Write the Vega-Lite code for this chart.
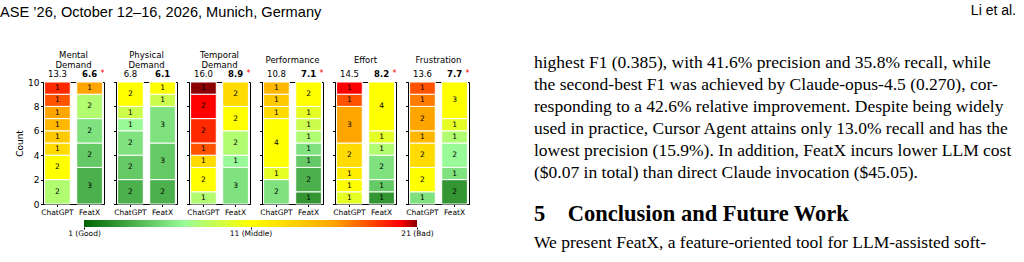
{
  "$schema": "https://vega.github.io/schema/vega-lite/v6.json",
  "padding": {"left": 0, "top": 4, "right": 0, "bottom": 0},
  "background": "white",
  "config": {
    "font": "DejaVu Sans",
    "view": {"stroke": "black", "strokeWidth": 1},
    "axis": {"domainColor": "black", "tickColor": "black", "labelColor": "black", "titleColor": "black", "grid": false, "domainWidth": 1},
    "title": {"font": "DejaVu Sans", "fontSize": 8.5, "fontWeight": "normal", "color": "black", "baseline": "middle", "lineHeight": 10, "offset": 0.5},
    "text": {"font": "DejaVu Sans", "color": "black"}
  },
  "datasets": {
    "segs": [
      {"task": "Mental Demand", "tool": "ChatGPT", "score": 8, "count": 2},
      {"task": "Mental Demand", "tool": "ChatGPT", "score": 11, "count": 2},
      {"task": "Mental Demand", "tool": "ChatGPT", "score": 13, "count": 1},
      {"task": "Mental Demand", "tool": "ChatGPT", "score": 14, "count": 1},
      {"task": "Mental Demand", "tool": "ChatGPT", "score": 15, "count": 1},
      {"task": "Mental Demand", "tool": "ChatGPT", "score": 16, "count": 1},
      {"task": "Mental Demand", "tool": "ChatGPT", "score": 18, "count": 1},
      {"task": "Mental Demand", "tool": "ChatGPT", "score": 19, "count": 1},
      {"task": "Mental Demand", "tool": "FeatX", "score": 4, "count": 3},
      {"task": "Mental Demand", "tool": "FeatX", "score": 5, "count": 2},
      {"task": "Mental Demand", "tool": "FeatX", "score": 6, "count": 2},
      {"task": "Mental Demand", "tool": "FeatX", "score": 8, "count": 2},
      {"task": "Mental Demand", "tool": "FeatX", "score": 16, "count": 1},
      {"task": "Physical Demand", "tool": "ChatGPT", "score": 4, "count": 2},
      {"task": "Physical Demand", "tool": "ChatGPT", "score": 5, "count": 2},
      {"task": "Physical Demand", "tool": "ChatGPT", "score": 6, "count": 2},
      {"task": "Physical Demand", "tool": "ChatGPT", "score": 7, "count": 1},
      {"task": "Physical Demand", "tool": "ChatGPT", "score": 9, "count": 1},
      {"task": "Physical Demand", "tool": "ChatGPT", "score": 11, "count": 2},
      {"task": "Physical Demand", "tool": "FeatX", "score": 4, "count": 2},
      {"task": "Physical Demand", "tool": "FeatX", "score": 5, "count": 3},
      {"task": "Physical Demand", "tool": "FeatX", "score": 6, "count": 3},
      {"task": "Physical Demand", "tool": "FeatX", "score": 9, "count": 1},
      {"task": "Physical Demand", "tool": "FeatX", "score": 11, "count": 1},
      {"task": "Temporal Demand", "tool": "ChatGPT", "score": 8, "count": 1},
      {"task": "Temporal Demand", "tool": "ChatGPT", "score": 11, "count": 2},
      {"task": "Temporal Demand", "tool": "ChatGPT", "score": 13, "count": 1},
      {"task": "Temporal Demand", "tool": "ChatGPT", "score": 18, "count": 1},
      {"task": "Temporal Demand", "tool": "ChatGPT", "score": 19, "count": 2},
      {"task": "Temporal Demand", "tool": "ChatGPT", "score": 20, "count": 2},
      {"task": "Temporal Demand", "tool": "ChatGPT", "score": 21, "count": 1},
      {"task": "Temporal Demand", "tool": "FeatX", "score": 6, "count": 3},
      {"task": "Temporal Demand", "tool": "FeatX", "score": 7, "count": 1},
      {"task": "Temporal Demand", "tool": "FeatX", "score": 8, "count": 2},
      {"task": "Temporal Demand", "tool": "FeatX", "score": 11, "count": 2},
      {"task": "Temporal Demand", "tool": "FeatX", "score": 13, "count": 2},
      {"task": "Performance", "tool": "ChatGPT", "score": 6, "count": 2},
      {"task": "Performance", "tool": "ChatGPT", "score": 10, "count": 1},
      {"task": "Performance", "tool": "ChatGPT", "score": 11, "count": 4},
      {"task": "Performance", "tool": "ChatGPT", "score": 13, "count": 1},
      {"task": "Performance", "tool": "ChatGPT", "score": 14, "count": 1},
      {"task": "Performance", "tool": "ChatGPT", "score": 15, "count": 1},
      {"task": "Performance", "tool": "FeatX", "score": 3, "count": 1},
      {"task": "Performance", "tool": "FeatX", "score": 4, "count": 2},
      {"task": "Performance", "tool": "FeatX", "score": 5, "count": 1},
      {"task": "Performance", "tool": "FeatX", "score": 6, "count": 1},
      {"task": "Performance", "tool": "FeatX", "score": 8, "count": 1},
      {"task": "Performance", "tool": "FeatX", "score": 9, "count": 1},
      {"task": "Performance", "tool": "FeatX", "score": 10, "count": 1},
      {"task": "Performance", "tool": "FeatX", "score": 11, "count": 2},
      {"task": "Effort", "tool": "ChatGPT", "score": 10, "count": 1},
      {"task": "Effort", "tool": "ChatGPT", "score": 11, "count": 1},
      {"task": "Effort", "tool": "ChatGPT", "score": 12, "count": 1},
      {"task": "Effort", "tool": "ChatGPT", "score": 13, "count": 2},
      {"task": "Effort", "tool": "ChatGPT", "score": 16, "count": 3},
      {"task": "Effort", "tool": "ChatGPT", "score": 18, "count": 1},
      {"task": "Effort", "tool": "ChatGPT", "score": 20, "count": 1},
      {"task": "Effort", "tool": "FeatX", "score": 3, "count": 1},
      {"task": "Effort", "tool": "FeatX", "score": 5, "count": 1},
      {"task": "Effort", "tool": "FeatX", "score": 6, "count": 2},
      {"task": "Effort", "tool": "FeatX", "score": 8, "count": 1},
      {"task": "Effort", "tool": "FeatX", "score": 10, "count": 1},
      {"task": "Effort", "tool": "FeatX", "score": 11, "count": 4},
      {"task": "Frustration", "tool": "ChatGPT", "score": 6, "count": 1},
      {"task": "Frustration", "tool": "ChatGPT", "score": 11, "count": 2},
      {"task": "Frustration", "tool": "ChatGPT", "score": 13, "count": 2},
      {"task": "Frustration", "tool": "ChatGPT", "score": 15, "count": 1},
      {"task": "Frustration", "tool": "ChatGPT", "score": 16, "count": 2},
      {"task": "Frustration", "tool": "ChatGPT", "score": 17, "count": 1},
      {"task": "Frustration", "tool": "ChatGPT", "score": 18, "count": 1},
      {"task": "Frustration", "tool": "FeatX", "score": 3, "count": 2},
      {"task": "Frustration", "tool": "FeatX", "score": 6, "count": 1},
      {"task": "Frustration", "tool": "FeatX", "score": 7, "count": 2},
      {"task": "Frustration", "tool": "FeatX", "score": 8, "count": 1},
      {"task": "Frustration", "tool": "FeatX", "score": 10, "count": 1},
      {"task": "Frustration", "tool": "FeatX", "score": 11, "count": 3}
    ],
    "means": [
      {"task": "Mental Demand", "tool": "ChatGPT", "mean": 13.3, "sig": ""},
      {"task": "Mental Demand", "tool": "FeatX", "mean": 6.6, "sig": "*"},
      {"task": "Physical Demand", "tool": "ChatGPT", "mean": 6.8, "sig": ""},
      {"task": "Physical Demand", "tool": "FeatX", "mean": 6.1, "sig": ""},
      {"task": "Temporal Demand", "tool": "ChatGPT", "mean": 16.0, "sig": ""},
      {"task": "Temporal Demand", "tool": "FeatX", "mean": 8.9, "sig": "*"},
      {"task": "Performance", "tool": "ChatGPT", "mean": 10.8, "sig": ""},
      {"task": "Performance", "tool": "FeatX", "mean": 7.1, "sig": "*"},
      {"task": "Effort", "tool": "ChatGPT", "mean": 14.5, "sig": ""},
      {"task": "Effort", "tool": "FeatX", "mean": 8.2, "sig": "*"},
      {"task": "Frustration", "tool": "ChatGPT", "mean": 13.6, "sig": ""},
      {"task": "Frustration", "tool": "FeatX", "mean": 7.7, "sig": "*"}
    ],
    "para1": [
      {"block": "p", "line": 1, "text": "highest F1 (0.385), with 41.6% precision and 35.8% recall, while"},
      {"block": "p", "line": 2, "text": "the second-best F1 was achieved by Claude-opus-4.5 (0.270), cor-"},
      {"block": "p", "line": 3, "text": "responding to a 42.6% relative improvement. Despite being widely"},
      {"block": "p", "line": 4, "text": "used in practice, Cursor Agent attains only 13.0% recall and has the"},
      {"block": "p", "line": 5, "text": "lowest precision (15.9%). In addition, FeatX incurs lower LLM cost"},
      {"block": "p", "line": 6, "text": "($0.07 in total) than direct Claude invocation ($45.05)."}
    ],
    "para2": [
      {"block": "p", "line": 1, "kind": "heading", "text": "5\u2003Conclusion and Future Work"},
      {"block": "p", "line": 2, "kind": "body", "text": "We present FeatX, a feature-oriented tool for LLM-assisted soft-"}
    ]
  },
  "hconcat": [
    {
      "title": {"text": "ASE \u201926, October 12\u201316, 2026, Munich, Germany", "anchor": "start", "frame": "bounds", "dx": -15, "offset": 22.5, "font": "Liberation Sans", "fontSize": 14.6, "baseline": "middle", "color": "black"},
      "spacing": 4,
      "vconcat": [
        {
          "hconcat": [
            {
              "width": 61, "height": 122,
              "title": {"text": ["Mental", "Demand"]},
              "encoding": {"x": {"field": "tool", "type": "nominal", "sort": ["ChatGPT", "FeatX"], "scale": {"paddingInner": 0.2, "paddingOuter": 0.05}, "axis": {"title": null, "labelAngle": 0, "labelFontSize": 7.5, "tickSize": 2.5, "labelPadding": 1.5}}},
              "layer": [
                {"data": {"name": "segs"}, "transform": [{"filter": {"field": "task", "equal": "Mental Demand"}}],
                 "mark": {"type": "bar", "stroke": "white", "strokeWidth": 1},
                 "encoding": {
                   "y": {"field": "count", "type": "quantitative", "stack": "zero", "scale": {"domain": [0, 10], "nice": false}, "axis": {"title": "Count", "values": [0, 2, 4, 6, 8, 10], "labelFontSize": 9, "titleFontSize": 9, "titleFontWeight": "normal", "tickSize": 2.5, "labelPadding": 1.5, "titlePadding": 3}},
                   "color": {"field": "score", "type": "quantitative", "scale": {"domain": [1, 7, 11, 16, 20, 21], "range": ["#006400", "#98fb98", "#ffff00", "#ffa500", "#ff0000", "#8b0000"], "interpolate": "rgb"}, "legend": null},
                   "order": {"field": "score", "type": "quantitative"}
                 }},
                {"data": {"name": "segs"}, "transform": [{"filter": {"field": "task", "equal": "Mental Demand"}}, {"stack": "count", "groupby": ["tool"], "sort": [{"field": "score", "order": "ascending"}], "as": ["y0", "y1"]}, {"calculate": "(datum.y0 + datum.y1) / 2", "as": "ymid"}],
                 "mark": {"type": "text", "fontSize": 7.5},
                 "encoding": {"y": {"field": "ymid", "type": "quantitative", "scale": {"domain": [0, 10], "nice": false}, "axis": {"title": "Count", "values": [0, 2, 4, 6, 8, 10], "labelFontSize": 9, "titleFontSize": 9, "titleFontWeight": "normal", "tickSize": 2.5, "labelPadding": 1.5, "titlePadding": 3}}, "text": {"field": "count", "type": "quantitative"}}},
                {"data": {"name": "means"}, "transform": [{"filter": {"field": "task", "equal": "Mental Demand"}}, {"filter": {"field": "tool", "equal": "ChatGPT"}}],
                 "mark": {"type": "text", "baseline": "bottom", "dy": -3, "fontSize": 8.5},
                 "encoding": {"y": {"datum": 10, "type": "quantitative", "scale": {"domain": [0, 10], "nice": false}, "axis": {"title": "Count", "values": [0, 2, 4, 6, 8, 10], "labelFontSize": 9, "titleFontSize": 9, "titleFontWeight": "normal", "tickSize": 2.5, "labelPadding": 1.5, "titlePadding": 3}}, "text": {"field": "mean", "type": "quantitative", "format": ".1f"}}},
                {"data": {"name": "means"}, "transform": [{"filter": {"field": "task", "equal": "Mental Demand"}}, {"filter": {"field": "tool", "equal": "FeatX"}}],
                 "mark": {"type": "text", "baseline": "bottom", "dy": -3, "fontSize": 8.5, "fontWeight": "bold"},
                 "encoding": {"y": {"datum": 10, "type": "quantitative", "scale": {"domain": [0, 10], "nice": false}, "axis": {"title": "Count", "values": [0, 2, 4, 6, 8, 10], "labelFontSize": 9, "titleFontSize": 9, "titleFontWeight": "normal", "tickSize": 2.5, "labelPadding": 1.5, "titlePadding": 3}}, "text": {"field": "mean", "type": "quantitative", "format": ".1f"}}},
                {"data": {"name": "means"}, "transform": [{"filter": {"field": "task", "equal": "Mental Demand"}}, {"filter": {"field": "tool", "equal": "FeatX"}}],
                 "mark": {"type": "text", "baseline": "bottom", "dx": 13, "dy": -4, "fontSize": 8, "color": "red"},
                 "encoding": {"y": {"datum": 10, "type": "quantitative", "scale": {"domain": [0, 10], "nice": false}, "axis": {"title": "Count", "values": [0, 2, 4, 6, 8, 10], "labelFontSize": 9, "titleFontSize": 9, "titleFontWeight": "normal", "tickSize": 2.5, "labelPadding": 1.5, "titlePadding": 3}}, "text": {"field": "sig"}}}
              ]
            },
            {
              "width": 61, "height": 122,
              "title": {"text": ["Physical", "Demand"]},
              "encoding": {"x": {"field": "tool", "type": "nominal", "sort": ["ChatGPT", "FeatX"], "scale": {"paddingInner": 0.2, "paddingOuter": 0.05}, "axis": {"title": null, "labelAngle": 0, "labelFontSize": 7.5, "tickSize": 2.5, "labelPadding": 1.5}}},
              "layer": [
                {"data": {"name": "segs"}, "transform": [{"filter": {"field": "task", "equal": "Physical Demand"}}],
                 "mark": {"type": "bar", "stroke": "white", "strokeWidth": 1},
                 "encoding": {
                   "y": {"field": "count", "type": "quantitative", "stack": "zero", "scale": {"domain": [0, 10], "nice": false}, "axis": {"title": null, "values": [0, 2, 4, 6, 8, 10], "labels": false, "tickSize": 2.5}},
                   "color": {"field": "score", "type": "quantitative", "scale": {"domain": [1, 7, 11, 16, 20, 21], "range": ["#006400", "#98fb98", "#ffff00", "#ffa500", "#ff0000", "#8b0000"], "interpolate": "rgb"}, "legend": null},
                   "order": {"field": "score", "type": "quantitative"}
                 }},
                {"data": {"name": "segs"}, "transform": [{"filter": {"field": "task", "equal": "Physical Demand"}}, {"stack": "count", "groupby": ["tool"], "sort": [{"field": "score", "order": "ascending"}], "as": ["y0", "y1"]}, {"calculate": "(datum.y0 + datum.y1) / 2", "as": "ymid"}],
                 "mark": {"type": "text", "fontSize": 7.5},
                 "encoding": {"y": {"field": "ymid", "type": "quantitative", "scale": {"domain": [0, 10], "nice": false}, "axis": {"title": null, "values": [0, 2, 4, 6, 8, 10], "labels": false, "tickSize": 2.5}}, "text": {"field": "count", "type": "quantitative"}}},
                {"data": {"name": "means"}, "transform": [{"filter": {"field": "task", "equal": "Physical Demand"}}, {"filter": {"field": "tool", "equal": "ChatGPT"}}],
                 "mark": {"type": "text", "baseline": "bottom", "dy": -3, "fontSize": 8.5},
                 "encoding": {"y": {"datum": 10, "type": "quantitative", "scale": {"domain": [0, 10], "nice": false}, "axis": {"title": null, "values": [0, 2, 4, 6, 8, 10], "labels": false, "tickSize": 2.5}}, "text": {"field": "mean", "type": "quantitative", "format": ".1f"}}},
                {"data": {"name": "means"}, "transform": [{"filter": {"field": "task", "equal": "Physical Demand"}}, {"filter": {"field": "tool", "equal": "FeatX"}}],
                 "mark": {"type": "text", "baseline": "bottom", "dy": -3, "fontSize": 8.5, "fontWeight": "bold"},
                 "encoding": {"y": {"datum": 10, "type": "quantitative", "scale": {"domain": [0, 10], "nice": false}, "axis": {"title": null, "values": [0, 2, 4, 6, 8, 10], "labels": false, "tickSize": 2.5}}, "text": {"field": "mean", "type": "quantitative", "format": ".1f"}}}
              ]
            },
            {
              "width": 61, "height": 122,
              "title": {"text": ["Temporal", "Demand"]},
              "encoding": {"x": {"field": "tool", "type": "nominal", "sort": ["ChatGPT", "FeatX"], "scale": {"paddingInner": 0.2, "paddingOuter": 0.05}, "axis": {"title": null, "labelAngle": 0, "labelFontSize": 7.5, "tickSize": 2.5, "labelPadding": 1.5}}},
              "layer": [
                {"data": {"name": "segs"}, "transform": [{"filter": {"field": "task", "equal": "Temporal Demand"}}],
                 "mark": {"type": "bar", "stroke": "white", "strokeWidth": 1},
                 "encoding": {
                   "y": {"field": "count", "type": "quantitative", "stack": "zero", "scale": {"domain": [0, 10], "nice": false}, "axis": {"title": null, "values": [0, 2, 4, 6, 8, 10], "labels": false, "tickSize": 2.5}},
                   "color": {"field": "score", "type": "quantitative", "scale": {"domain": [1, 7, 11, 16, 20, 21], "range": ["#006400", "#98fb98", "#ffff00", "#ffa500", "#ff0000", "#8b0000"], "interpolate": "rgb"}, "legend": null},
                   "order": {"field": "score", "type": "quantitative"}
                 }},
                {"data": {"name": "segs"}, "transform": [{"filter": {"field": "task", "equal": "Temporal Demand"}}, {"stack": "count", "groupby": ["tool"], "sort": [{"field": "score", "order": "ascending"}], "as": ["y0", "y1"]}, {"calculate": "(datum.y0 + datum.y1) / 2", "as": "ymid"}],
                 "mark": {"type": "text", "fontSize": 7.5},
                 "encoding": {"y": {"field": "ymid", "type": "quantitative", "scale": {"domain": [0, 10], "nice": false}, "axis": {"title": null, "values": [0, 2, 4, 6, 8, 10], "labels": false, "tickSize": 2.5}}, "text": {"field": "count", "type": "quantitative"}}},
                {"data": {"name": "means"}, "transform": [{"filter": {"field": "task", "equal": "Temporal Demand"}}, {"filter": {"field": "tool", "equal": "ChatGPT"}}],
                 "mark": {"type": "text", "baseline": "bottom", "dy": -3, "fontSize": 8.5},
                 "encoding": {"y": {"datum": 10, "type": "quantitative", "scale": {"domain": [0, 10], "nice": false}, "axis": {"title": null, "values": [0, 2, 4, 6, 8, 10], "labels": false, "tickSize": 2.5}}, "text": {"field": "mean", "type": "quantitative", "format": ".1f"}}},
                {"data": {"name": "means"}, "transform": [{"filter": {"field": "task", "equal": "Temporal Demand"}}, {"filter": {"field": "tool", "equal": "FeatX"}}],
                 "mark": {"type": "text", "baseline": "bottom", "dy": -3, "fontSize": 8.5, "fontWeight": "bold"},
                 "encoding": {"y": {"datum": 10, "type": "quantitative", "scale": {"domain": [0, 10], "nice": false}, "axis": {"title": null, "values": [0, 2, 4, 6, 8, 10], "labels": false, "tickSize": 2.5}}, "text": {"field": "mean", "type": "quantitative", "format": ".1f"}}},
                {"data": {"name": "means"}, "transform": [{"filter": {"field": "task", "equal": "Temporal Demand"}}, {"filter": {"field": "tool", "equal": "FeatX"}}],
                 "mark": {"type": "text", "baseline": "bottom", "dx": 13, "dy": -4, "fontSize": 8, "color": "red"},
                 "encoding": {"y": {"datum": 10, "type": "quantitative", "scale": {"domain": [0, 10], "nice": false}, "axis": {"title": null, "values": [0, 2, 4, 6, 8, 10], "labels": false, "tickSize": 2.5}}, "text": {"field": "sig"}}}
              ]
            },
            {
              "width": 61, "height": 122,
              "title": {"text": "Performance", "offset": 6},
              "encoding": {"x": {"field": "tool", "type": "nominal", "sort": ["ChatGPT", "FeatX"], "scale": {"paddingInner": 0.2, "paddingOuter": 0.05}, "axis": {"title": null, "labelAngle": 0, "labelFontSize": 7.5, "tickSize": 2.5, "labelPadding": 1.5}}},
              "layer": [
                {"data": {"name": "segs"}, "transform": [{"filter": {"field": "task", "equal": "Performance"}}],
                 "mark": {"type": "bar", "stroke": "white", "strokeWidth": 1},
                 "encoding": {
                   "y": {"field": "count", "type": "quantitative", "stack": "zero", "scale": {"domain": [0, 10], "nice": false}, "axis": {"title": null, "values": [0, 2, 4, 6, 8, 10], "labels": false, "tickSize": 2.5}},
                   "color": {"field": "score", "type": "quantitative", "scale": {"domain": [1, 7, 11, 16, 20, 21], "range": ["#006400", "#98fb98", "#ffff00", "#ffa500", "#ff0000", "#8b0000"], "interpolate": "rgb"}, "legend": null},
                   "order": {"field": "score", "type": "quantitative"}
                 }},
                {"data": {"name": "segs"}, "transform": [{"filter": {"field": "task", "equal": "Performance"}}, {"stack": "count", "groupby": ["tool"], "sort": [{"field": "score", "order": "ascending"}], "as": ["y0", "y1"]}, {"calculate": "(datum.y0 + datum.y1) / 2", "as": "ymid"}],
                 "mark": {"type": "text", "fontSize": 7.5},
                 "encoding": {"y": {"field": "ymid", "type": "quantitative", "scale": {"domain": [0, 10], "nice": false}, "axis": {"title": null, "values": [0, 2, 4, 6, 8, 10], "labels": false, "tickSize": 2.5}}, "text": {"field": "count", "type": "quantitative"}}},
                {"data": {"name": "means"}, "transform": [{"filter": {"field": "task", "equal": "Performance"}}, {"filter": {"field": "tool", "equal": "ChatGPT"}}],
                 "mark": {"type": "text", "baseline": "bottom", "dy": -3, "fontSize": 8.5},
                 "encoding": {"y": {"datum": 10, "type": "quantitative", "scale": {"domain": [0, 10], "nice": false}, "axis": {"title": null, "values": [0, 2, 4, 6, 8, 10], "labels": false, "tickSize": 2.5}}, "text": {"field": "mean", "type": "quantitative", "format": ".1f"}}},
                {"data": {"name": "means"}, "transform": [{"filter": {"field": "task", "equal": "Performance"}}, {"filter": {"field": "tool", "equal": "FeatX"}}],
                 "mark": {"type": "text", "baseline": "bottom", "dy": -3, "fontSize": 8.5, "fontWeight": "bold"},
                 "encoding": {"y": {"datum": 10, "type": "quantitative", "scale": {"domain": [0, 10], "nice": false}, "axis": {"title": null, "values": [0, 2, 4, 6, 8, 10], "labels": false, "tickSize": 2.5}}, "text": {"field": "mean", "type": "quantitative", "format": ".1f"}}},
                {"data": {"name": "means"}, "transform": [{"filter": {"field": "task", "equal": "Performance"}}, {"filter": {"field": "tool", "equal": "FeatX"}}],
                 "mark": {"type": "text", "baseline": "bottom", "dx": 13, "dy": -4, "fontSize": 8, "color": "red"},
                 "encoding": {"y": {"datum": 10, "type": "quantitative", "scale": {"domain": [0, 10], "nice": false}, "axis": {"title": null, "values": [0, 2, 4, 6, 8, 10], "labels": false, "tickSize": 2.5}}, "text": {"field": "sig"}}}
              ]
            },
            {
              "width": 61, "height": 122,
              "title": {"text": "Effort", "offset": 6},
              "encoding": {"x": {"field": "tool", "type": "nominal", "sort": ["ChatGPT", "FeatX"], "scale": {"paddingInner": 0.2, "paddingOuter": 0.05}, "axis": {"title": null, "labelAngle": 0, "labelFontSize": 7.5, "tickSize": 2.5, "labelPadding": 1.5}}},
              "layer": [
                {"data": {"name": "segs"}, "transform": [{"filter": {"field": "task", "equal": "Effort"}}],
                 "mark": {"type": "bar", "stroke": "white", "strokeWidth": 1},
                 "encoding": {
                   "y": {"field": "count", "type": "quantitative", "stack": "zero", "scale": {"domain": [0, 10], "nice": false}, "axis": {"title": null, "values": [0, 2, 4, 6, 8, 10], "labels": false, "tickSize": 2.5}},
                   "color": {"field": "score", "type": "quantitative", "scale": {"domain": [1, 7, 11, 16, 20, 21], "range": ["#006400", "#98fb98", "#ffff00", "#ffa500", "#ff0000", "#8b0000"], "interpolate": "rgb"}, "legend": null},
                   "order": {"field": "score", "type": "quantitative"}
                 }},
                {"data": {"name": "segs"}, "transform": [{"filter": {"field": "task", "equal": "Effort"}}, {"stack": "count", "groupby": ["tool"], "sort": [{"field": "score", "order": "ascending"}], "as": ["y0", "y1"]}, {"calculate": "(datum.y0 + datum.y1) / 2", "as": "ymid"}],
                 "mark": {"type": "text", "fontSize": 7.5},
                 "encoding": {"y": {"field": "ymid", "type": "quantitative", "scale": {"domain": [0, 10], "nice": false}, "axis": {"title": null, "values": [0, 2, 4, 6, 8, 10], "labels": false, "tickSize": 2.5}}, "text": {"field": "count", "type": "quantitative"}}},
                {"data": {"name": "means"}, "transform": [{"filter": {"field": "task", "equal": "Effort"}}, {"filter": {"field": "tool", "equal": "ChatGPT"}}],
                 "mark": {"type": "text", "baseline": "bottom", "dy": -3, "fontSize": 8.5},
                 "encoding": {"y": {"datum": 10, "type": "quantitative", "scale": {"domain": [0, 10], "nice": false}, "axis": {"title": null, "values": [0, 2, 4, 6, 8, 10], "labels": false, "tickSize": 2.5}}, "text": {"field": "mean", "type": "quantitative", "format": ".1f"}}},
                {"data": {"name": "means"}, "transform": [{"filter": {"field": "task", "equal": "Effort"}}, {"filter": {"field": "tool", "equal": "FeatX"}}],
                 "mark": {"type": "text", "baseline": "bottom", "dy": -3, "fontSize": 8.5, "fontWeight": "bold"},
                 "encoding": {"y": {"datum": 10, "type": "quantitative", "scale": {"domain": [0, 10], "nice": false}, "axis": {"title": null, "values": [0, 2, 4, 6, 8, 10], "labels": false, "tickSize": 2.5}}, "text": {"field": "mean", "type": "quantitative", "format": ".1f"}}},
                {"data": {"name": "means"}, "transform": [{"filter": {"field": "task", "equal": "Effort"}}, {"filter": {"field": "tool", "equal": "FeatX"}}],
                 "mark": {"type": "text", "baseline": "bottom", "dx": 13, "dy": -4, "fontSize": 8, "color": "red"},
                 "encoding": {"y": {"datum": 10, "type": "quantitative", "scale": {"domain": [0, 10], "nice": false}, "axis": {"title": null, "values": [0, 2, 4, 6, 8, 10], "labels": false, "tickSize": 2.5}}, "text": {"field": "sig"}}}
              ]
            },
            {
              "width": 61, "height": 122,
              "title": {"text": "Frustration", "offset": 6},
              "encoding": {"x": {"field": "tool", "type": "nominal", "sort": ["ChatGPT", "FeatX"], "scale": {"paddingInner": 0.2, "paddingOuter": 0.05}, "axis": {"title": null, "labelAngle": 0, "labelFontSize": 7.5, "tickSize": 2.5, "labelPadding": 1.5}}},
              "layer": [
                {"data": {"name": "segs"}, "transform": [{"filter": {"field": "task", "equal": "Frustration"}}],
                 "mark": {"type": "bar", "stroke": "white", "strokeWidth": 1},
                 "encoding": {
                   "y": {"field": "count", "type": "quantitative", "stack": "zero", "scale": {"domain": [0, 10], "nice": false}, "axis": {"title": null, "values": [0, 2, 4, 6, 8, 10], "labels": false, "tickSize": 2.5}},
                   "color": {"field": "score", "type": "quantitative", "scale": {"domain": [1, 7, 11, 16, 20, 21], "range": ["#006400", "#98fb98", "#ffff00", "#ffa500", "#ff0000", "#8b0000"], "interpolate": "rgb"}, "legend": null},
                   "order": {"field": "score", "type": "quantitative"}
                 }},
                {"data": {"name": "segs"}, "transform": [{"filter": {"field": "task", "equal": "Frustration"}}, {"stack": "count", "groupby": ["tool"], "sort": [{"field": "score", "order": "ascending"}], "as": ["y0", "y1"]}, {"calculate": "(datum.y0 + datum.y1) / 2", "as": "ymid"}],
                 "mark": {"type": "text", "fontSize": 7.5},
                 "encoding": {"y": {"field": "ymid", "type": "quantitative", "scale": {"domain": [0, 10], "nice": false}, "axis": {"title": null, "values": [0, 2, 4, 6, 8, 10], "labels": false, "tickSize": 2.5}}, "text": {"field": "count", "type": "quantitative"}}},
                {"data": {"name": "means"}, "transform": [{"filter": {"field": "task", "equal": "Frustration"}}, {"filter": {"field": "tool", "equal": "ChatGPT"}}],
                 "mark": {"type": "text", "baseline": "bottom", "dy": -3, "fontSize": 8.5},
                 "encoding": {"y": {"datum": 10, "type": "quantitative", "scale": {"domain": [0, 10], "nice": false}, "axis": {"title": null, "values": [0, 2, 4, 6, 8, 10], "labels": false, "tickSize": 2.5}}, "text": {"field": "mean", "type": "quantitative", "format": ".1f"}}},
                {"data": {"name": "means"}, "transform": [{"filter": {"field": "task", "equal": "Frustration"}}, {"filter": {"field": "tool", "equal": "FeatX"}}],
                 "mark": {"type": "text", "baseline": "bottom", "dy": -3, "fontSize": 8.5, "fontWeight": "bold"},
                 "encoding": {"y": {"datum": 10, "type": "quantitative", "scale": {"domain": [0, 10], "nice": false}, "axis": {"title": null, "values": [0, 2, 4, 6, 8, 10], "labels": false, "tickSize": 2.5}}, "text": {"field": "mean", "type": "quantitative", "format": ".1f"}}},
                {"data": {"name": "means"}, "transform": [{"filter": {"field": "task", "equal": "Frustration"}}, {"filter": {"field": "tool", "equal": "FeatX"}}],
                 "mark": {"type": "text", "baseline": "bottom", "dx": 13, "dy": -4, "fontSize": 8, "color": "red"},
                 "encoding": {"y": {"datum": 10, "type": "quantitative", "scale": {"domain": [0, 10], "nice": false}, "axis": {"title": null, "values": [0, 2, 4, 6, 8, 10], "labels": false, "tickSize": 2.5}}, "text": {"field": "sig"}}}
              ]
            }
          ],
          "spacing": 12,
          "bounds": "flush"
        },
        {
          "width": 426, "height": 7,
          "view": {"stroke": null},
          "data": {"values": [{"lo": 1, "hi": 21}]},
          "mark": {"type": "rect", "fill": {"gradient": "linear", "x1": 0, "x2": 1, "y1": 0, "y2": 0, "stops": [{"offset": 0, "color": "#006400"}, {"offset": 0.3, "color": "#98fb98"}, {"offset": 0.5, "color": "#ffff00"}, {"offset": 0.75, "color": "#ffa500"}, {"offset": 0.95, "color": "#ff0000"}, {"offset": 1, "color": "#8b0000"}]}},
          "encoding": {
            "x": {"field": "lo", "type": "quantitative", "scale": {"domain": [1, 21], "range": [41, 374], "nice": false, "zero": false}, "axis": {"values": [1, 11, 21], "labelExpr": "datum.value == 1 ? '1 (Good)' : datum.value == 11 ? '11 (Middle)' : '21 (Bad)'", "title": null, "domain": false, "tickSize": 2, "labelFontSize": 7.5, "labelPadding": 0, "labelFlush": false}},
            "x2": {"field": "hi"}
          }
        }
      ]
    },
    {
      "title": {"text": "Li et al.", "anchor": "end", "frame": "bounds", "offset": 29, "font": "Liberation Sans", "fontSize": 14, "baseline": "middle", "color": "black"},
      "spacing": 11,
      "vconcat": [
        {
          "width": 482, "height": 110,
          "view": {"stroke": null},
          "data": {"name": "para1"},
          "mark": {"type": "text", "align": "left", "baseline": "middle", "dy": -19, "font": "Liberation Serif", "fontSize": 17.5},
          "encoding": {
            "x": {"field": "block", "type": "nominal", "scale": {"type": "point", "padding": 0, "align": 0}, "axis": null},
            "y": {"field": "line", "type": "ordinal", "scale": {"type": "point", "padding": 0}, "axis": null},
            "text": {"field": "text"}
          }
        },
        {
          "width": 482, "height": 29,
          "view": {"stroke": null},
          "data": {"name": "para2"},
          "encoding": {
            "x": {"field": "block", "type": "nominal", "scale": {"type": "point", "padding": 0, "align": 0}, "axis": null},
            "y": {"field": "line", "type": "ordinal", "scale": {"type": "point", "padding": 0, "domain": [1, 2]}, "axis": null},
            "text": {"field": "text"}
          },
          "layer": [
            {"transform": [{"filter": {"field": "kind", "equal": "heading"}}],
             "mark": {"type": "text", "align": "left", "baseline": "middle", "dy": -19, "font": "Liberation Serif", "fontSize": 22.5, "fontWeight": "bold"}},
            {"transform": [{"filter": {"field": "kind", "equal": "body"}}],
             "mark": {"type": "text", "align": "left", "baseline": "middle", "dy": -19, "font": "Liberation Serif", "fontSize": 17.5}}
          ]
        }
      ]
    }
  ],
  "spacing": 63
}
